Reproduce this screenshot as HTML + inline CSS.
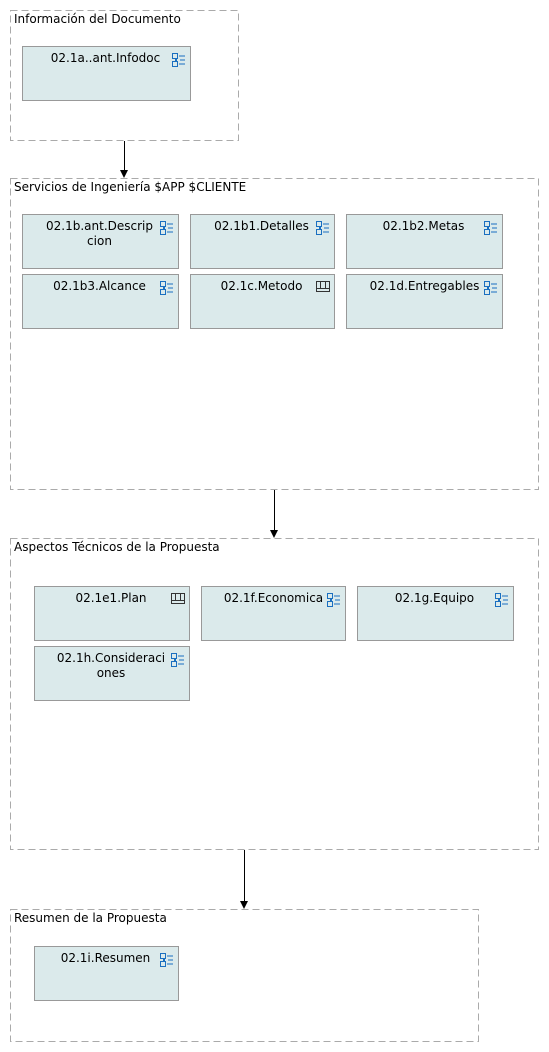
<!DOCTYPE html>
<html><head><meta charset="utf-8"><style>
body{margin:0;width:549px;height:1052px;background:#fff;position:relative;font-family:"DejaVu Sans","Liberation Sans",sans-serif;font-size:12px;color:#000;overflow:hidden}
.gl{position:absolute;white-space:nowrap}
.b{position:absolute;background:#dbeaeb;border:1px solid #999;box-sizing:border-box}
.b .t{position:absolute;left:0;right:2px;top:4px;text-align:center;line-height:15px;white-space:nowrap}
.b svg{position:absolute;right:4px;top:6px}
.a{position:absolute;width:1px;background:#000}
.h{position:absolute;width:0;height:0;border-left:4px solid transparent;border-right:4px solid transparent;border-top:8px solid #000}
</style></head><body>
<svg width="549" height="1052" style="position:absolute;left:0;top:0">
<defs>
<g id="li" fill="none" stroke="#1a6fc0" stroke-width="1"><rect x="0.5" y="0.5" width="5" height="5"/><rect x="0.5" y="8.5" width="5" height="5"/><line x1="7" y1="3" x2="13" y2="3"/><line x1="7" y1="11" x2="13" y2="11"/><line x1="8" y1="7" x2="13" y2="7"/><rect x="3" y="6" width="2" height="2" fill="#1a6fc0" stroke="none"/></g>
<g id="tb" fill="none" stroke="#333" stroke-width="1"><rect x="0.5" y="0.5" width="13" height="10"/><line x1="0.5" y1="7.5" x2="13.5" y2="7.5"/><line x1="4.5" y1="0.5" x2="4.5" y2="7.5"/><line x1="9.5" y1="0.5" x2="9.5" y2="7.5"/></g>
</defs>
<g fill="none" stroke="#aaa" stroke-width="1" stroke-dasharray="7,4">
<rect x="10.5" y="10.5" width="228" height="130"/>
<rect x="10.5" y="178.5" width="528" height="311"/>
<rect x="10.5" y="538.5" width="528" height="311"/>
<rect x="10.5" y="909.5" width="468" height="132"/>
</g>
</svg>
<div class="gl" style="left:14px;top:12px">Información del Documento</div>
<div class="gl" style="left:14px;top:180px">Servicios de Ingeniería $APP $CLIENTE</div>
<div class="gl" style="left:14px;top:540px">Aspectos Técnicos de la Propuesta</div>
<div class="gl" style="left:14px;top:911px">Resumen de la Propuesta</div>

<div class="b" style="left:22px;top:46px;width:169px;height:55px"><div class="t">02.1a..ant.Infodoc</div><svg width="14" height="14"><use href="#li"/></svg></div>

<div class="b" style="left:22px;top:214px;width:157px;height:55px"><div class="t">02.1b.ant.Descrip<br>cion</div><svg width="14" height="14"><use href="#li"/></svg></div>
<div class="b" style="left:190px;top:214px;width:145px;height:55px"><div class="t">02.1b1.Detalles</div><svg width="14" height="14"><use href="#li"/></svg></div>
<div class="b" style="left:346px;top:214px;width:157px;height:55px"><div class="t">02.1b2.Metas</div><svg width="14" height="14"><use href="#li"/></svg></div>
<div class="b" style="left:22px;top:274px;width:157px;height:55px"><div class="t">02.1b3.Alcance</div><svg width="14" height="14"><use href="#li"/></svg></div>
<div class="b" style="left:190px;top:274px;width:145px;height:55px"><div class="t">02.1c.Metodo</div><svg width="14" height="14"><use href="#tb"/></svg></div>
<div class="b" style="left:346px;top:274px;width:157px;height:55px"><div class="t" style="right:0">02.1d.Entregables</div><svg width="14" height="14"><use href="#li"/></svg></div>

<div class="b" style="left:34px;top:586px;width:156px;height:55px"><div class="t">02.1e1.Plan</div><svg width="14" height="14"><use href="#tb"/></svg></div>
<div class="b" style="left:201px;top:586px;width:145px;height:55px"><div class="t" style="right:0">02.1f.Economica</div><svg width="14" height="14"><use href="#li"/></svg></div>
<div class="b" style="left:357px;top:586px;width:157px;height:55px"><div class="t">02.1g.Equipo</div><svg width="14" height="14"><use href="#li"/></svg></div>
<div class="b" style="left:34px;top:646px;width:156px;height:55px"><div class="t">02.1h.Consideraci<br>ones</div><svg width="14" height="14"><use href="#li"/></svg></div>

<div class="b" style="left:34px;top:946px;width:145px;height:55px"><div class="t">02.1i.Resumen</div><svg width="14" height="14"><use href="#li"/></svg></div>

<div class="a" style="left:124px;top:141px;height:30px"></div><div class="h" style="left:120px;top:170px"></div>
<div class="a" style="left:274px;top:490px;height:41px"></div><div class="h" style="left:270px;top:530px"></div>
<div class="a" style="left:244px;top:850px;height:52px"></div><div class="h" style="left:240px;top:901px"></div>
</body></html>
